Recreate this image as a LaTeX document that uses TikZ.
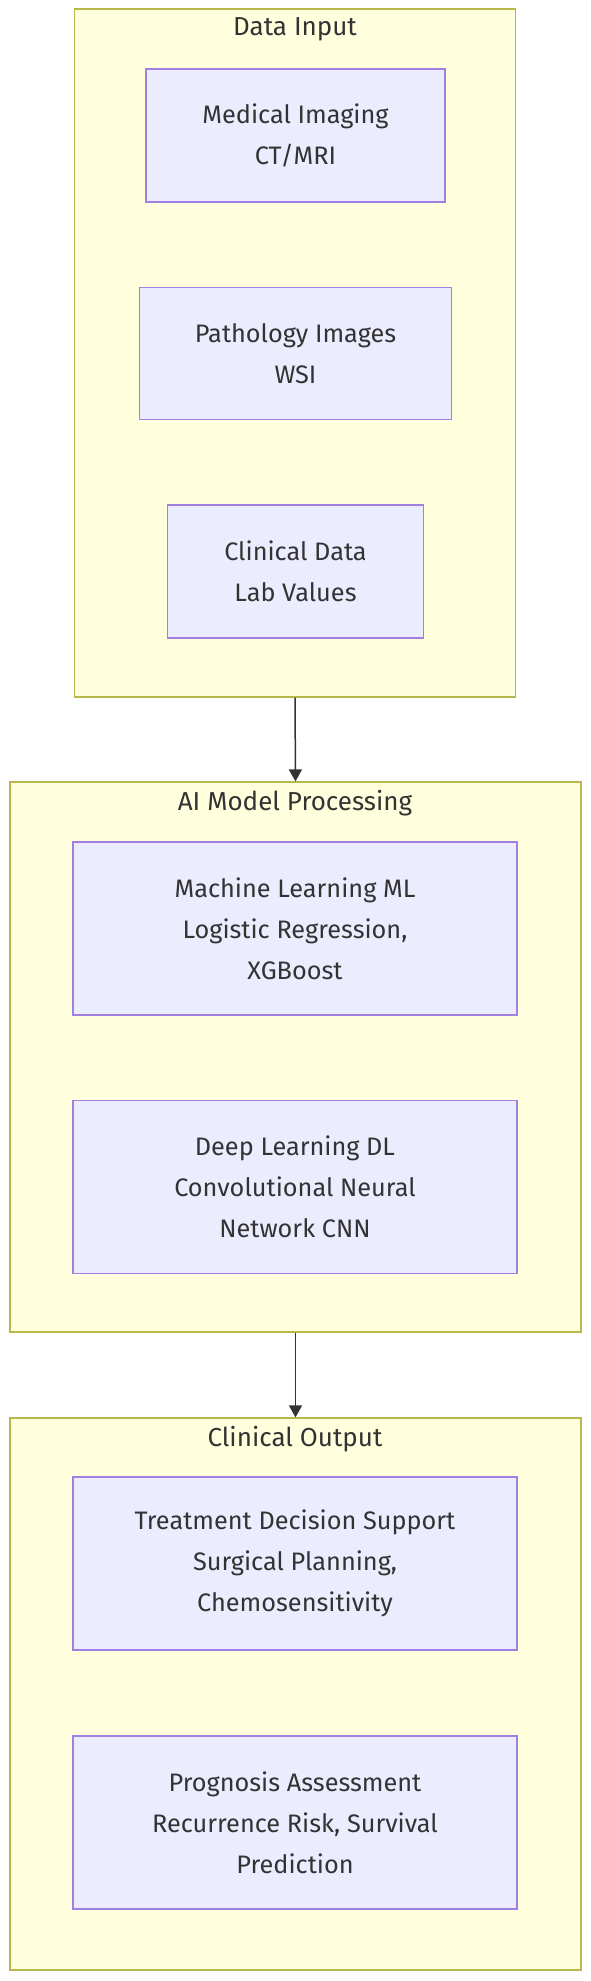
\documentclass[tikz,border=0pt]{standalone}
\usepackage{fontspec}
\setmainfont{Fira Sans}
\usetikzlibrary{positioning, arrows.meta}
\definecolor{clusterfill}{HTML}{FFFFDE}
\definecolor{clusterline}{HTML}{B8B84A}
\definecolor{boxfill}{HTML}{ECECFF}
\definecolor{boxline}{HTML}{A080E0}
\definecolor{ink}{HTML}{333333}

\begin{document}
\begin{tikzpicture}[x=1pt,y=-1pt,node distance=218pt,on grid,
    cluster/.style={draw=clusterline,fill=clusterfill,line width=1.2pt,inner sep=0pt},
    title/.style={text=ink,font=\fontsize{26}{30}\selectfont},
    box/.style={draw=boxline,fill=boxfill,line width=1.2pt,text=ink,align=center,
      inner sep=0pt,font=\fontsize{25.3}{41}\selectfont},
    flow/.style={draw=ink,line width=1.5pt,-{Triangle[length=12pt,width=13pt]}}]
  \useasboundingbox (0,0) rectangle (591,1981);
  \fill[white] (0,0) rectangle (591,1981);

  % clusters
  \node[cluster, minimum width=441pt, minimum height=688pt] (input) at (295,353) {};
  \node[cluster, minimum width=571pt, minimum height=550pt] (model) at (295.5,1057) {};
  \node[cluster, minimum width=571pt, minimum height=552pt] (output) at (295.5,1694) {};

  \node[title] (inputT) at (295,29) {Data Input};
  \node[title] (modelT) at (295,803) {AI Model Processing};
  \node[title] (outputT) at (295,1439) {Clinical Output};

  % data input
  \node[box, minimum width=299pt, minimum height=133pt] (img) at (295.5,135.5) {Medical Imaging\\CT/MRI};
  \node[box, minimum width=312pt, minimum height=132pt] (path) [below=of img] {Pathology Images\\WSI};
  \node[box, minimum width=256pt, minimum height=133pt] (clin) [below=of path] {Clinical Data\\Lab Values};

  % models
  \node[box, minimum width=444pt, minimum height=173pt] (ml) at (295,928.5) {Machine Learning ML\\Logistic Regression,\\XGBoost};
  \node[box, minimum width=444pt, minimum height=173pt] (dl) [below=258.5pt of ml] {Deep Learning DL\\Convolutional Neural\\Network CNN};

  % outputs
  \node[box, minimum width=444pt, minimum height=173pt] (treat) at (295,1563.5) {Treatment Decision Support\\Surgical Planning,\\Chemosensitivity};
  \node[box, minimum width=444pt, minimum height=173pt] (prog) [below=259pt of treat] {Prognosis Assessment\\Recurrence Risk, Survival\\Prediction};

  \draw[flow] (input.south) -- (model.north);
  \draw[flow] (model.south) -- (output.north);
\end{tikzpicture}
\end{document}
